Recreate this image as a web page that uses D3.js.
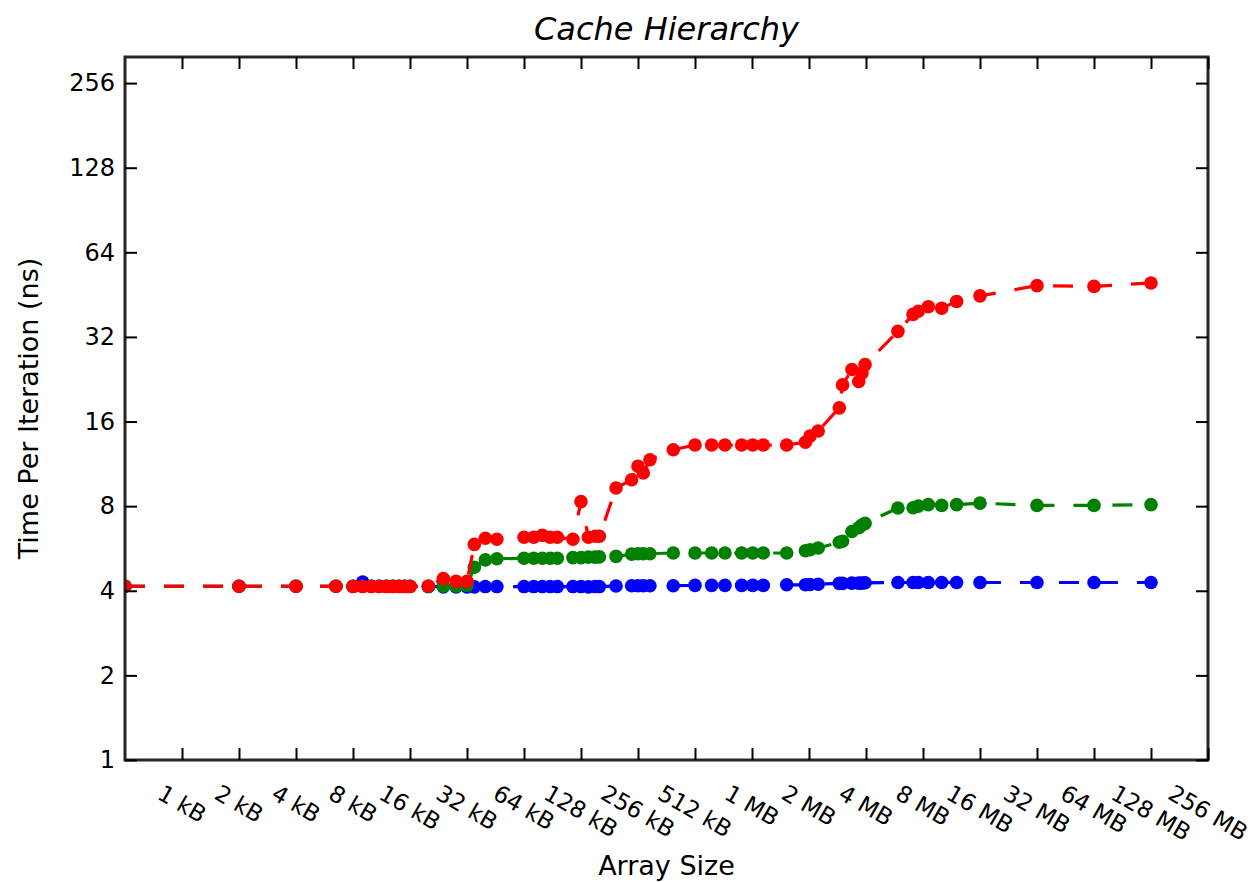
<!DOCTYPE html>
<html>
<head>
<meta charset="utf-8">
<script src="https://cdn.jsdelivr.net/npm/d3@7"></script>
<style>
  body { margin: 0; background: #fff; }
  text { font-family: 'DejaVu Sans', sans-serif; fill: #000; }
</style>
</head>
<body>
<div id="chart"></div>
<script>
// array sizes in kB
const sizesKB = [0.5, 2, 4, 6.5, 8, 9, 10, 11, 12, 13, 14, 15, 16, 20, 24, 28, 32, 35, 40, 46,
  64, 72, 80, 88, 96, 116, 128, 140, 152, 160, 196, 237, 256, 273, 296, 393, 512, 627, 737, 903,
  1033, 1175, 1561, 1960, 2074, 2290, 2960, 3080, 3450, 3750, 3900, 4050, 6040, 7260, 7740, 8740,
  10280, 12330, 16384, 32768, 65536, 131072];

// time per iteration (ns), one list per line
const timesBlue = [4.15, 4.15, 4.15, 4.15, 4.15, 4.3, 4.15, 4.15, 4.15, 4.15, 4.15, 4.15, 4.15, 4.14, 4.13, 4.13, 4.13, 4.13, 4.14, 4.14,
  4.14, 4.14, 4.14, 4.14, 4.14, 4.14, 4.14, 4.13, 4.14, 4.14, 4.16, 4.17, 4.17, 4.17, 4.17, 4.17, 4.18, 4.18, 4.18, 4.18,
  4.18, 4.18, 4.2, 4.2, 4.21, 4.22, 4.25, 4.25, 4.26, 4.26, 4.26, 4.27, 4.28, 4.28, 4.28, 4.28,
  4.28, 4.28, 4.28, 4.28, 4.28, 4.28];
const timesGreen = [4.15, 4.15, 4.15, 4.15, 4.15, 4.15, 4.15, 4.15, 4.15, 4.15, 4.15, 4.15, 4.15, 4.14, 4.15, 4.15, 4.18, 4.85, 5.15, 5.2,
  5.22, 5.22, 5.22, 5.22, 5.22, 5.25, 5.25, 5.27, 5.27, 5.28, 5.3, 5.4, 5.42, 5.42, 5.42, 5.45, 5.45, 5.45, 5.45, 5.45,
  5.45, 5.45, 5.45, 5.55, 5.6, 5.68, 5.95, 6.0, 6.5, 6.7, 6.85, 6.95, 7.88, 7.9, 8.0, 8.1,
  8.05, 8.1, 8.2, 8.05, 8.05, 8.1];
const timesRed = [4.15, 4.15, 4.15, 4.15, 4.14, 4.14, 4.14, 4.14, 4.14, 4.14, 4.14, 4.14, 4.14, 4.16, 4.42, 4.32, 4.32, 5.85, 6.15, 6.1,
  6.2, 6.2, 6.3, 6.2, 6.2, 6.1, 8.3, 6.2, 6.25, 6.25, 9.28, 9.93, 11.1, 10.5, 11.7, 12.7, 13.2, 13.2, 13.2, 13.2,
  13.2, 13.2, 13.2, 13.5, 14.2, 14.8, 17.9, 21.6, 24.5, 22.2, 23.8, 25.5, 33.5, 38.5, 39.5, 41.0,
  40.5, 42.8, 44.8, 48.7, 48.4, 49.8];

const seriesColors = ['#0000ff', '#008000', '#ff0000'];

const xTickValues = [1, 2, 4, 8, 16, 32, 64, 128, 256, 512, 1024, 2048, 4096, 8192, 16384, 32768, 65536, 131072, 262144];
const xTickLabels = ['1 kB', '2 kB', '4 kB', '8 kB', '16 kB', '32 kB', '64 kB', '128 kB', '256 kB', '512 kB',
  '1 MB', '2 MB', '4 MB', '8 MB', '16 MB', '32 MB', '64 MB', '128 MB', '256 MB'];
const yTickValues = [1, 2, 4, 8, 16, 32, 64, 128, 256];

const width = 1255, height = 882;
const margin = { top: 57, right: 47, bottom: 122, left: 125 };
const plotW = width - margin.left - margin.right;
const plotH = height - margin.bottom - margin.top;

const svg = d3.select('#chart').append('svg')
  .attr('width', width)
  .attr('height', height);

const x = d3.scaleLog().base(2).domain([0.5, 262144]).range([margin.left, width - margin.right]);
const y = d3.scaleLog().base(2).domain([1, 317]).range([height - margin.bottom, margin.top]);

svg.append('clipPath').attr('id', 'plotclip')
  .append('rect')
  .attr('x', margin.left).attr('y', margin.top)
  .attr('width', plotW).attr('height', plotH);

const plot = svg.append('g').attr('clip-path', 'url(#plotclip)');

const allSeries = [timesBlue, timesGreen, timesRed];

allSeries.forEach(function(times, i) {
  const pts = sizesKB.map(function(s, j) { return { size: s, t: times[j] }; });
  const line = d3.line().x(d => x(d.size)).y(d => y(d.t));
  plot.append('path')
    .datum(pts)
    .attr('d', line)
    .attr('fill', 'none')
    .attr('stroke', seriesColors[i])
    .attr('stroke-width', 3.2)
    .attr('stroke-dasharray', '20,19');
  plot.selectAll(null)
    .data(pts)
    .enter()
    .append('circle')
    .attr('cx', d => x(d.size))
    .attr('cy', d => y(d.t))
    .attr('r', 6.8)
    .attr('fill', seriesColors[i]);
});

// frame
svg.append('rect')
  .attr('x', margin.left).attr('y', margin.top)
  .attr('width', plotW).attr('height', plotH)
  .attr('fill', 'none')
  .attr('stroke', '#262626')
  .attr('stroke-width', 3);

// ticks, pointing inwards on all four sides
const tickLen = 12;
const bottomAxis = d3.axisBottom(x).tickValues(xTickValues).tickFormat('').tickSizeInner(-tickLen).tickSizeOuter(0);
const topAxis = d3.axisTop(x).tickValues(xTickValues).tickFormat('').tickSizeInner(-tickLen).tickSizeOuter(0);
const leftAxis = d3.axisLeft(y).tickValues(yTickValues).tickFormat(d3.format('d')).tickSizeInner(-tickLen).tickSizeOuter(0);
const rightAxis = d3.axisRight(y).tickValues(yTickValues).tickFormat('').tickSizeInner(-tickLen).tickSizeOuter(0);

function styleAxis(g) {
  g.select('.domain').remove();
  g.selectAll('.tick line').attr('stroke', '#000').attr('stroke-width', 2);
}

svg.append('g').attr('transform', 'translate(0,' + (height - margin.bottom) + ')').call(bottomAxis).call(styleAxis);
svg.append('g').attr('transform', 'translate(0,' + margin.top + ')').call(topAxis).call(styleAxis);
svg.append('g').attr('transform', 'translate(' + (width - margin.right) + ',0)').call(rightAxis).call(styleAxis);
const gl = svg.append('g').attr('transform', 'translate(' + margin.left + ',0)').call(leftAxis).call(styleAxis);
gl.selectAll('.tick text')
  .attr('x', -10)
  .style('font-family', "'DejaVu Sans', sans-serif")
  .style('font-size', '24px')
  .attr('fill', '#1a1a1a');

// rotated x tick labels, top of the rotated box aligned just under the axis
const labelTop = height - margin.bottom + 22;
const angle = 30;
const rad = angle * Math.PI / 180;
xTickValues.forEach(function(v, i) {
  const t = svg.append('text')
    .attr('text-anchor', 'middle')
    .attr('dominant-baseline', 'central')
    .style('font-size', '23px')
    .attr('fill', '#1a1a1a')
    .text(xTickLabels[i]);
  const bb = t.node().getBBox();
  const hh = bb.height * 0.8;
  const boxH = bb.width * Math.sin(rad) + hh * Math.cos(rad);
  const cx = x(v), cy = labelTop + boxH / 2;
  t.attr('transform', 'translate(' + cx + ',' + cy + ') rotate(' + angle + ')');
});

svg.append('text')
  .attr('x', margin.left + plotW / 2)
  .attr('y', 40)
  .attr('text-anchor', 'middle')
  .style('font-size', '32px')
  .style('font-style', 'italic')
  .text('Cache Hierarchy');

svg.append('text')
  .attr('x', margin.left + plotW / 2)
  .attr('y', 875)
  .attr('text-anchor', 'middle')
  .style('font-size', '27px')
  .text('Array Size');

svg.append('text')
  .attr('transform', 'translate(38,' + (margin.top + plotH / 2) + ') rotate(-90)')
  .attr('text-anchor', 'middle')
  .style('font-size', '27px')
  .text('Time Per Iteration (ns)');
</script>
</body>
</html>
